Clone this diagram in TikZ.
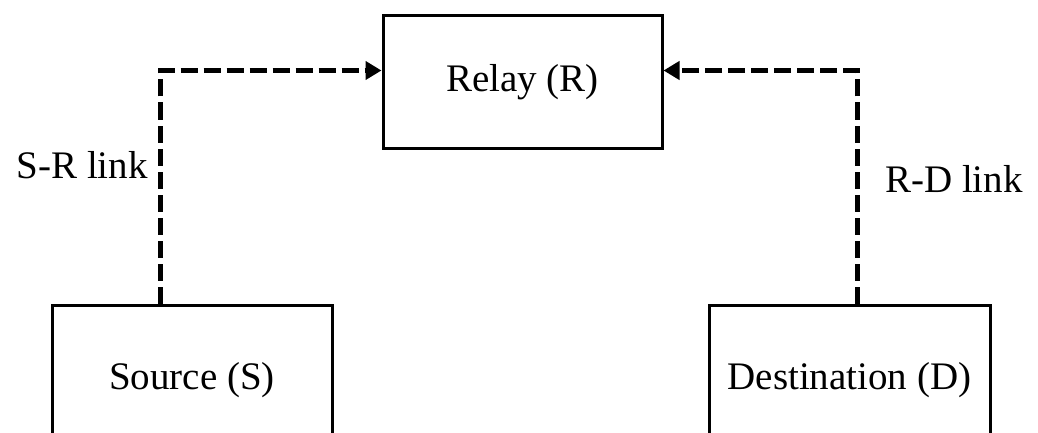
\documentclass[tikz,border=0pt]{standalone}
\usepackage{fontspec}
\setmainfont{Liberation Serif}
\usetikzlibrary{arrows.meta}
\begin{document}
\begin{tikzpicture}[x=1pt,y=1pt,
  block/.style={draw=black, line width=3pt, rectangle, inner sep=0pt, font=\fontsize{39}{46}\selectfont},
  link/.style={line width=5pt, dash pattern=on 17pt off 6pt, -{Triangle[length=16pt,width=18pt]}},
  lbl/.style={inner sep=0pt, font=\fontsize{39}{46}\selectfont}]
\useasboundingbox (0,0) rectangle (1038,432);
\clip (0,0) rectangle (1038,432);
\node[block, minimum width=279pt, minimum height=132pt] (R) at (522.5,350) {Relay (R)};
\node[block, minimum width=280pt, minimum height=150pt] (S) at (192,52) {Source (S)};
\node[block, minimum width=281pt, minimum height=150pt] (D) at (849.5,52) {Destination (D)};
\coordinate (c1) at (160.5,361.5);
\coordinate (c2) at (857,361.5);
\draw[link] (S.north -| c1) -- (c1) -- (R.west |- c1);
\draw[link] (D.north -| c2) -- (c2) -- (R.east |- c2);
\node[lbl, anchor=base east] (l1) at (148,254) {S-R link};
\node[lbl, anchor=base west] (l2) at (885,240) {R-D link};
\end{tikzpicture}
\end{document}
